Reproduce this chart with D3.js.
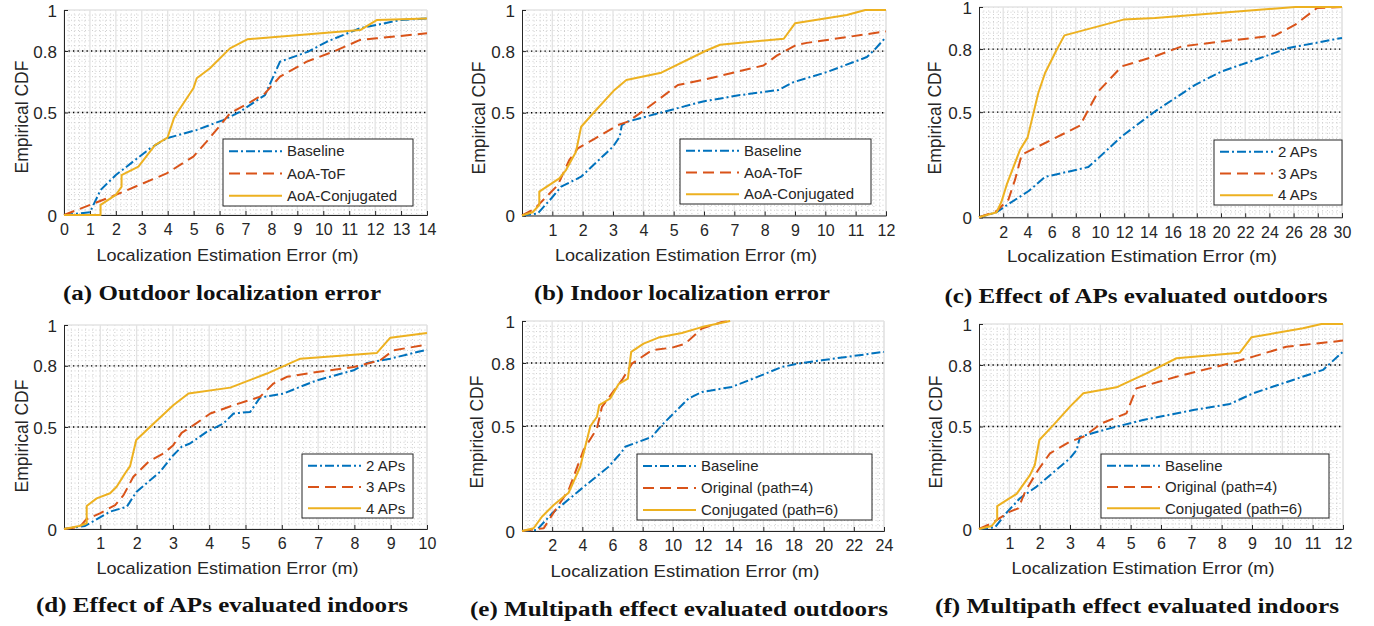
<!DOCTYPE html>
<html>
<head>
<meta charset="utf-8">
<script src="https://cdn.jsdelivr.net/npm/d3@7"></script>
<style>
  html, body { margin: 0; padding: 0; background: #ffffff; }
  svg { display: block; }
  .sans { font-family: "Liberation Sans", Arial, Helvetica, sans-serif; fill: #262626; }
  .cap { font-family: "Liberation Serif", "Times New Roman", serif; font-weight: bold; fill: #111; }
</style>
</head>
<body>
<svg id="chart" width="1374" height="626"></svg>
<script>
// ---------------- DATA ----------------
const yTicks = [0, 0.5, 0.8, 1];

const xTicksA = [0,1,2,3,4,5,6,7,8,9,10,11,12,13,14];
const xTicksB = [1,2,3,4,5,6,7,8,9,10,11,12];
const xTicksC = [2,4,6,8,10,12,14,16,18,20,22,24,26,28,30];
const xTicksD = [1,2,3,4,5,6,7,8,9,10];
const xTicksE = [2,4,6,8,10,12,14,16,18,20,22,24];
const xTicksF = [1,2,3,4,5,6,7,8,9,10,11,12];

const legendMethods = ["Baseline", "AoA-ToF", "AoA-Conjugated"];
const legendAPs = ["2 APs", "3 APs", "4 APs"];
const legendPaths = ["Baseline", "Original (path=4)", "Conjugated (path=6)"];

const captions = [
  "(a) Outdoor localization error",
  "(b) Indoor localization error",
  "(c) Effect of APs evaluated outdoors",
  "(d) Effect of APs evaluated indoors",
  "(e) Multipath effect evaluated outdoors",
  "(f) Multipath effect evaluated indoors"
];
const xTitle = "Localization Estimation Error (m)";
const yTitle = "Empirical CDF";

// (a) outdoor
const outdoorBaseline = [[0,0],[1.0,0.013],[1.41,0.122],[2.0,0.195],[3.32,0.325],[3.96,0.374],[5.12,0.415],[6.14,0.463],[6.79,0.504],[7.75,0.585],[8.33,0.748],[9.42,0.797],[10.13,0.845],[11.42,0.911],[12.06,0.927],[12.96,0.951],[14,0.959]];
const outdoorAoaTof = [[0,0],[2.0,0.098],[3.06,0.155],[3.96,0.203],[4.99,0.285],[5.5,0.358],[6.14,0.455],[6.4,0.496],[7.11,0.545],[7.75,0.593],[8.33,0.675],[9.36,0.748],[10.39,0.797],[11.42,0.854],[12.06,0.862],[14,0.886]];
const outdoorConj = [[0,0],[1.41,0],[1.41,0.049],[2.0,0.098],[2.22,0.138],[2.22,0.195],[2.87,0.236],[3.51,0.341],[3.99,0.377],[4.24,0.472],[4.41,0.507],[4.99,0.618],[5.12,0.667],[5.63,0.716],[6.4,0.813],[7.07,0.857],[11.42,0.902],[12.06,0.951],[14,0.959]];

// (b) indoor
const indoorBaseline = [[0,0],[0.52,0.01],[0.97,0.084],[1.29,0.14],[1.95,0.189],[3.0,0.335],[3.22,0.383],[3.29,0.44],[3.49,0.457],[4.48,0.497],[5.97,0.555],[7.19,0.586],[8.46,0.611],[8.95,0.649],[10.05,0.698],[11.37,0.771],[11.65,0.811],[12,0.869]];
const indoorAoaTof = [[0,0],[0.41,0.032],[1.18,0.148],[1.56,0.27],[1.84,0.327],[2.39,0.373],[3.16,0.44],[3.49,0.457],[4.04,0.513],[4.48,0.562],[4.92,0.611],[5.14,0.635],[5.97,0.66],[7.96,0.73],[8.41,0.779],[9.06,0.831],[9.39,0.84],[12,0.896]];
const indoorConj = [[0,0],[0.35,0.016],[0.57,0.051],[0.57,0.116],[1.23,0.181],[1.45,0.221],[1.78,0.31],[1.95,0.432],[2.39,0.505],[3.05,0.611],[3.44,0.659],[4.59,0.695],[6.08,0.803],[6.53,0.831],[8.63,0.86],[9.0,0.935],[10.71,0.976],[11.32,1.0],[12,1.0]];

// (c) APs outdoors
const apsOut2 = [[0,0],[1.46,0.024],[2.15,0.052],[4.08,0.124],[5.46,0.192],[9.04,0.239],[9.87,0.282],[11.8,0.385],[14.56,0.504],[17.87,0.63],[20.07,0.694],[22.83,0.749],[25.58,0.805],[30,0.853]];
const apsOut3 = [[0,0],[1.46,0.03],[2.43,0.084],[2.98,0.179],[3.53,0.298],[6.01,0.369],[8.35,0.436],[9.04,0.512],[9.87,0.599],[11.8,0.718],[14.56,0.766],[16.77,0.813],[20.07,0.836],[24.48,0.865],[26.14,0.916],[27.93,0.995],[30,1.0]];
const apsOut4 = [[0,0],[1.46,0.024],[1.87,0.076],[2.29,0.155],[3.39,0.321],[4.02,0.38],[4.9,0.591],[5.46,0.686],[6.42,0.797],[7.06,0.865],[11.94,0.94],[14.56,0.948],[26.14,1.0],[30,1.0]];

// (d) APs indoors
const apsIn2 = [[0,0],[0.58,0.015],[1.27,0.085],[1.73,0.109],[2.0,0.183],[2.65,0.281],[2.97,0.354],[3.24,0.403],[3.47,0.419],[3.93,0.476],[4.39,0.517],[4.67,0.566],[5.13,0.574],[5.4,0.644],[6.05,0.664],[6.51,0.697],[6.97,0.729],[7.98,0.778],[8.35,0.814],[8.99,0.835],[10,0.879]];
const apsIn3 = [[0,0],[0.44,0.011],[0.61,0.047],[0.99,0.077],[1.41,0.117],[1.64,0.166],[1.91,0.256],[2.33,0.33],[2.74,0.37],[3.01,0.411],[3.24,0.471],[3.57,0.509],[4.03,0.566],[4.67,0.607],[5.4,0.648],[5.77,0.713],[6.14,0.746],[6.97,0.77],[7.98,0.794],[8.71,0.827],[9.08,0.876],[10,0.904]];
const apsIn4 = [[0,0],[0.42,0.015],[0.625,0.028],[0.625,0.113],[0.9,0.15],[1.27,0.175],[1.45,0.207],[1.68,0.272],[1.82,0.308],[1.99,0.436],[2.42,0.509],[3.01,0.607],[3.43,0.664],[4.58,0.693],[5.59,0.762],[6.51,0.835],[8.62,0.863],[8.99,0.938],[10,0.961]];

// (e) multipath outdoors
const mpOutBaseline = [[0,0],[0.99,0.005],[1.99,0.084],[3.97,0.203],[5.74,0.306],[6.62,0.377],[6.84,0.401],[8.61,0.448],[9.27,0.504],[11.04,0.631],[11.92,0.662],[13.91,0.686],[15.9,0.742],[17.22,0.781],[18.33,0.797],[19.87,0.813],[24,0.853]];
const mpOutOriginal = [[0,0],[1.44,0.013],[2.21,0.1],[3.09,0.195],[4.08,0.385],[4.97,0.488],[5.3,0.591],[5.96,0.655],[6.62,0.718],[7.29,0.797],[8.61,0.861],[9.94,0.873],[10.82,0.892],[11.92,0.964],[13.25,0.995],[13.8,1.0]];
const mpOutConj = [[0,0],[0.77,0.013],[1.32,0.068],[2.1,0.124],[3.09,0.182],[3.86,0.306],[4.53,0.499],[4.97,0.544],[5.12,0.599],[5.85,0.631],[6.4,0.699],[7.02,0.726],[7.24,0.853],[8.06,0.892],[9.05,0.921],[10.6,0.943],[11.92,0.971],[13.8,1.0]];

// (f) multipath indoors
const mpInBaseline = [[0,0],[0.53,0.008],[0.91,0.08],[1.35,0.15],[1.9,0.207],[3.0,0.345],[3.22,0.385],[3.33,0.45],[4.31,0.491],[5.41,0.532],[7.06,0.58],[8.27,0.61],[9.04,0.662],[10.35,0.727],[11.34,0.776],[12,0.865]];
const mpInOriginal = [[0,0],[0.42,0.028],[1.02,0.085],[1.3,0.101],[1.52,0.182],[1.95,0.288],[2.34,0.369],[3.0,0.426],[3.44,0.45],[4.04,0.515],[4.86,0.564],[5.19,0.686],[6.51,0.743],[8.05,0.8],[9.04,0.841],[10.13,0.889],[12,0.919]];
const mpInConj = [[0,0],[0.42,0.015],[0.6,0.047],[0.6,0.112],[0.91,0.141],[1.24,0.171],[1.68,0.263],[1.84,0.312],[1.99,0.434],[2.45,0.507],[3.0,0.597],[3.44,0.662],[4.53,0.691],[5.52,0.759],[6.51,0.833],[8.6,0.86],[8.98,0.935],[10.68,0.979],[11.29,1.0],[12,1.0]];

// ---------------- STYLE / LAYOUT ----------------
const seriesStyles = [
  { color: "#0072BD", dash: "9,3,2,3" },
  { color: "#D95319", dash: "11,6" },
  { color: "#EDB120", dash: null }
];

const panels = [
  { xMax: 14, xTicks: xTicksA, minorStep: 0.2, series: [outdoorBaseline, outdoorAoaTof, outdoorConj], legend: legendMethods,
    box: { l: 64, r: 427, t: 10, b: 215 }, leg: { x: 223, y: 139, w: 190, h: 67 }, xt: { x: 227.5, y: 261, w: 262 }, yt: { x: 22, y: 117 }, cap: { x: 222, y: 300, w: 318 }, capText: captions[0] },
  { xMax: 12, xTicks: xTicksB, minorStep: 0.2, series: [indoorBaseline, indoorAoaTof, indoorConj], legend: legendMethods,
    box: { l: 522, r: 886, t: 10, b: 215.5 }, leg: { x: 680, y: 139, w: 191, h: 65 }, xt: { x: 686, y: 261, w: 262 }, yt: { x: 479, y: 118 }, cap: { x: 682, y: 300, w: 296 }, capText: captions[1] },
  { xMax: 30, xTicks: xTicksC, minorStep: 0.4, series: [apsOut2, apsOut3, apsOut4], legend: legendAPs,
    box: { l: 979, r: 1342, t: 7, b: 217.3 }, leg: { x: 1214, y: 140, w: 128, h: 65 }, xt: { x: 1142, y: 262, w: 270 }, yt: { x: 935, y: 118 }, cap: { x: 1136, y: 303, w: 383 }, capText: captions[2] },
  { xMax: 10, xTicks: xTicksD, minorStep: 0.2, series: [apsIn2, apsIn3, apsIn4], legend: legendAPs,
    box: { l: 64, r: 427, t: 325, b: 529 }, leg: { x: 302, y: 454, w: 111, h: 64 }, xt: { x: 227.5, y: 574, w: 262 }, yt: { x: 22, y: 436 }, cap: { x: 222, y: 612, w: 372 }, capText: captions[3] },
  { xMax: 24, xTicks: xTicksE, minorStep: 0.4, series: [mpOutBaseline, mpOutOriginal, mpOutConj], legend: legendPaths,
    box: { l: 522, r: 884, t: 321, b: 531 }, leg: { x: 637, y: 454, w: 235, h: 66 }, xt: { x: 685, y: 577, w: 269 }, yt: { x: 477, y: 432 }, cap: { x: 679, y: 616, w: 418 }, capText: captions[4] },
  { xMax: 12, xTicks: xTicksF, minorStep: 0.2, series: [mpInBaseline, mpInOriginal, mpInConj], legend: legendPaths,
    box: { l: 979, r: 1343, t: 324, b: 529 }, leg: { x: 1101, y: 454, w: 228, h: 64 }, xt: { x: 1143, y: 574, w: 263 }, yt: { x: 936, y: 432 }, cap: { x: 1137, y: 613, w: 404 }, capText: captions[5] }
];

const svg = d3.select("#chart");

function drawPanel(p) {
  const g = svg.append("g");
  const x = d3.scaleLinear().domain([0, p.xMax]).range([p.box.l, p.box.r]);
  const y = d3.scaleLinear().domain([0, 1]).range([p.box.b, p.box.t]);

  // minor grid
  const minorX = d3.range(0, p.xMax + 1e-9, p.minorStep).filter(v => !p.xTicks.some(t => Math.abs(t - v) < 1e-6) && v > 1e-6);
  const minorY = d3.range(0.025, 1, 0.025).filter(v => !yTicks.some(t => Math.abs(t - v) < 1e-6));
  g.append("g").selectAll("line").data(minorX).join("line")
    .attr("x1", d => x(d)).attr("x2", d => x(d)).attr("y1", p.box.t).attr("y2", p.box.b)
    .attr("stroke", "#c4c4c4").attr("stroke-width", 0.8).attr("stroke-dasharray", "1,2.5");
  g.append("g").selectAll("line").data(minorY).join("line")
    .attr("x1", p.box.l).attr("x2", p.box.r).attr("y1", d => y(d)).attr("y2", d => y(d))
    .attr("stroke", "#c4c4c4").attr("stroke-width", 0.8).attr("stroke-dasharray", "1,2.5");

  // major grid (light solid)
  g.append("g").selectAll("line").data(p.xTicks).join("line")
    .attr("x1", d => x(d)).attr("x2", d => x(d)).attr("y1", p.box.t).attr("y2", p.box.b)
    .attr("stroke", "#e3e3e3").attr("stroke-width", 1.3);
  g.append("g").selectAll("line").data(yTicks).join("line")
    .attr("x1", p.box.l).attr("x2", p.box.r).attr("y1", d => y(d)).attr("y2", d => y(d))
    .attr("stroke", "#e3e3e3").attr("stroke-width", 1.3);
  g.append("line").attr("x1", p.box.r).attr("x2", p.box.r).attr("y1", p.box.t).attr("y2", p.box.b)
    .attr("stroke", "#e3e3e3").attr("stroke-width", 1.3);

  // black dotted reference lines
  g.append("g").selectAll("line").data([0.5, 0.8]).join("line")
    .attr("x1", p.box.l).attr("x2", p.box.r).attr("y1", d => y(d)).attr("y2", d => y(d))
    .attr("stroke", "#000").attr("stroke-width", 1.3).attr("stroke-dasharray", "1.3,3.2");

  // axes
  const xAxis = d3.axisBottom(x).tickValues(p.xTicks).tickSize(-4).tickPadding(9).tickFormat(d3.format("d"));
  const yAxis = d3.axisLeft(y).tickValues(yTicks).tickSize(-4).tickPadding(7).tickFormat(d => String(d));
  const gx = g.append("g").attr("transform", `translate(0,${p.box.b})`).call(xAxis);
  const gy = g.append("g").attr("transform", `translate(${p.box.l},0)`).call(yAxis);
  [gx, gy].forEach(a => {
    a.select(".domain").attr("stroke", "#262626").attr("stroke-width", 1);
    a.selectAll(".tick line").attr("stroke", "#262626").attr("stroke-width", 1);
    a.selectAll(".tick text").attr("class", "sans").attr("fill", "#262626")
      .style("font-family", "'Liberation Sans', Arial, sans-serif");
  });
  gx.selectAll(".tick text").style("font-size", "16px");
  gy.selectAll(".tick text").style("font-size", "17px").attr("dy", "0.36em");

  // series
  const line = d3.line().x(d => x(d[0])).y(d => y(d[1]));
  p.series.forEach((s, i) => {
    g.append("path").datum(s).attr("d", line)
      .attr("fill", "none").attr("stroke", seriesStyles[i].color).attr("stroke-width", 2)
      .attr("stroke-linejoin", "round")
      .attr("stroke-dasharray", seriesStyles[i].dash);
  });

  // legend
  const lg = g.append("g");
  lg.append("rect").attr("x", p.leg.x).attr("y", p.leg.y).attr("width", p.leg.w).attr("height", p.leg.h)
    .attr("fill", "#fff").attr("stroke", "#262626").attr("stroke-width", 1);
  const rowH = p.leg.h / 3;
  p.legend.forEach((label, i) => {
    const cy = p.leg.y + rowH * (i + 0.5) + 1;
    lg.append("line").attr("x1", p.leg.x + 6).attr("x2", p.leg.x + 59).attr("y1", cy).attr("y2", cy)
      .attr("stroke", seriesStyles[i].color).attr("stroke-width", 2)
      .attr("stroke-dasharray", seriesStyles[i].dash);
    lg.append("text").attr("class", "sans").attr("x", p.leg.x + 64).attr("y", cy).attr("dy", "0.35em")
      .style("font-size", "15px").text(label);
  });

  // axis titles
  g.append("text").attr("class", "sans").attr("x", p.xt.x).attr("y", p.xt.y)
    .attr("text-anchor", "middle").style("font-size", "17px")
    .attr("textLength", p.xt.w).attr("lengthAdjust", "spacingAndGlyphs").text(xTitle);
  g.append("text").attr("class", "sans")
    .attr("transform", `translate(${p.yt.x},${p.yt.y}) rotate(-90)`)
    .attr("text-anchor", "middle").attr("dy", "0.35em").style("font-size", "17.5px").text(yTitle);

  // caption
  g.append("text").attr("class", "cap").attr("x", p.cap.x).attr("y", p.cap.y)
    .attr("text-anchor", "middle").style("font-size", "20px")
    .attr("textLength", p.cap.w).attr("lengthAdjust", "spacingAndGlyphs").text(p.capText);
}

panels.forEach(drawPanel);
</script>
</body>
</html>
